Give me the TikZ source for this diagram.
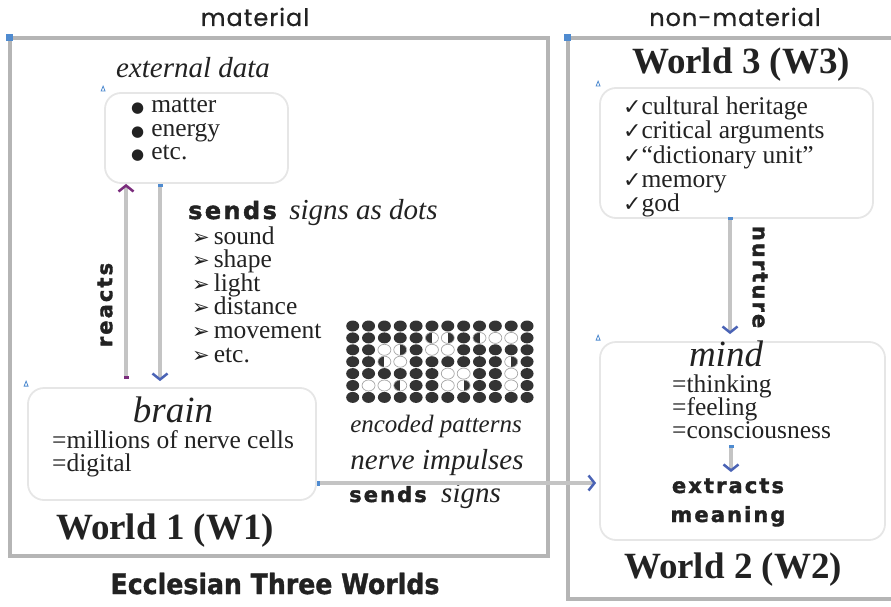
\documentclass[tikz,border=0pt]{standalone}
\usepackage{fontspec}
\usetikzlibrary{arrows.meta,shapes.geometric,positioning,calc}
\setmainfont{Liberation Serif}
\newfontfamily\heavyfont[LetterSpace=10,BoldFeatures={FakeBold=1.8}]{DejaVu Sans}
\newfontfamily\symfont{DejaVu Sans}
\newfontfamily\handfont[LetterSpace=4,FakeBold=0.6]{Poppins}
\newfontfamily\condfont[BoldFeatures={FakeBold=1.2}]{DejaVu Sans Condensed}
\definecolor{inkgray}{HTML}{222222}
\definecolor{framegray}{HTML}{B5B5B5}
\definecolor{boxgray}{HTML}{E6E6E6}
\definecolor{linegray}{HTML}{C4C4C4}
\definecolor{tipblue}{HTML}{4A63B5}
\definecolor{markblue}{HTML}{4F8BD0}
\definecolor{tippurple}{HTML}{7A2C7C}
\definecolor{dotdark}{HTML}{333333}
\newcommand\bodysize{\fontsize{25.5}{28}\selectfont}
\newcommand\bulletmark{{\symfont\fontsize{15}{15}\selectfont ●}\hspace{7pt}}
\newcommand\pointmark{{\symfont\fontsize{21}{21}\selectfont ➢}\hspace{4pt}}
\newcommand\tickmark{{\symfont\fontsize{22}{22}\selectfont ✓}\hspace{0pt}}
\tikzset{
  frame/.style={line width=4pt, draw=framegray},
  softbox/.style={draw=boxgray, line width=1.8pt, rounded corners=16pt, inner sep=0pt},
  tri/.style={draw=markblue, line width=0.8pt},
  flow/.style={line width=3.5pt, draw=linegray,
    {Square[length=3pt,width=5pt,color=markblue]}-{Straight Barb[length=6pt,width=15pt,line width=2.5pt,color=tipblue]}},
  reactflow/.style={flow,
    {Square[length=3pt,width=5pt,color=tippurple]}-{Straight Barb[length=6pt,width=15pt,line width=2.5pt,color=tippurple]}},
  bodytext/.style={font=\bodysize, anchor=base west, inner sep=0pt},
  worldtitle/.style={font=\fontsize{37}{40}\selectfont\bfseries, anchor=base, inner sep=0pt},
  bigitalic/.style={font=\fontsize{37}{40}\selectfont\itshape, anchor=base, inner sep=0pt},
  heavy/.style={font=\fontsize{21}{24}\selectfont\heavyfont\bfseries, inner sep=0pt},
  handtext/.style={font=\fontsize{24}{26}\selectfont\handfont, anchor=base, inner sep=0pt},
  dot/.style={ellipse, minimum width=13pt, minimum height=11pt, inner sep=0pt},
  dotF/.style={dot, fill=dotdark},
  dotO/.style={dot, draw=gray!70, line width=0.7pt, fill=white},
  dotL/.style={dotO, path picture={\fill[dotdark] (path picture bounding box.south west) rectangle (path picture bounding box.north);}},
  dotR/.style={dotO, path picture={\fill[dotdark] (path picture bounding box.south) rectangle (path picture bounding box.north east);}}
}
\begin{document}
\begin{tikzpicture}[x=1pt, y=-1pt, every node/.style={text=inkgray}]
\useasboundingbox (0,0) rectangle (891,607);

% the two worlds frames
\draw[frame] (10,38) rectangle (548,556);
\draw[frame] (900,38) -- (568,38) -- (568,599) -- (900,599);
\fill[markblue] (6,34) rectangle ++(7,7);
\fill[markblue] (564,34) rectangle ++(7,7);
\node[handtext] (matlbl) at (255,26) {material};
\node[handtext] (nonmatlbl) at (735,26) {non-material};

% boxes
\node[softbox, minimum width=183pt, minimum height=90pt] (ext) at (196.5,138) {};
\node[softbox, minimum width=288pt, minimum height=112pt] (brain) at (172,444) {};
\node[softbox, minimum width=273pt, minimum height=130pt] (w3) at (736.5,153) {};
\node[softbox, minimum width=285pt, minimum height=198pt] (mind) at (742.5,441) {};
\foreach \b in {ext,brain,w3,mind}
  \draw[tri] ([shift={(-3,-1)}]\b.north west) -- ++(2,-5) -- ++(2,5) -- cycle;

% World 1
\node[font=\fontsize{29}{32}\selectfont\itshape, anchor=base, inner sep=0pt] (extlbl) at (193,78) {external data};
\foreach \t [count=\k] in {matter,energy,etc.}
  \node[bodytext] (ext-\k) at (131,113+23.5*\k-23.5) {\bulletmark\t};

\node[heavy, font=\fontsize{24}{26}\selectfont\heavyfont\bfseries, anchor=base west] (sends) at (188,219) {sends};
\node[font=\fontsize{29}{32}\selectfont\itshape, anchor=base west, inner sep=0pt, right=12pt of sends.base east, anchor=base west] (signs) {signs as dots};
\foreach \t [count=\k] in {sound,shape,light,distance,movement,etc.}
  \node[bodytext] (snd-\k) at (192,244+23.6*\k-23.6) {\pointmark\t};

\coordinate (rx) at (126,0);
\coordinate (sx) at (160,0);
\draw[reactflow] ($(rx |- brain.north)+(0,-8)$) -- (rx |- ext.south);
\draw[flow] (sx |- ext.south) -- ($(sx |- brain.north)+(0,-6)$);
\node[heavy, rotate=90] (reacts) at (105,305) {reacts};

% encoded dots
\foreach \row [count=\j] in {
  {F,F,F,F,F,F,F,F,F,F,F,F},
  {F,F,F,F,F,L,R,F,L,O,O,F},
  {F,F,O,R,F,O,O,F,F,F,F,F},
  {F,F,L,O,F,F,F,F,F,F,R,F},
  {F,F,F,F,F,F,O,O,F,F,O,F},
  {F,O,O,L,F,F,O,R,F,F,O,F},
  {F,F,F,F,F,F,F,F,F,F,F,F}}{
  \foreach \c [count=\i] in \row
    \node[dot\c] (d\j-\i) at (352.7+15.85*\i-15.85, 326+11.9*\j-11.9) {};
}
\node[font=\fontsize{25}{28}\selectfont\itshape, anchor=base, inner sep=0pt] (enc) at (436,432) {encoded patterns};
\node[font=\fontsize{29}{32}\selectfont\itshape, anchor=base, inner sep=0pt] (imp) at (437,469) {nerve impulses};
\node[heavy, anchor=base west] (sends2) at (349,502) {sends};
\node[font=\fontsize{29}{32}\selectfont\itshape, anchor=base west, inner sep=0pt, right=14pt of sends2.base east, anchor=base west] (signs2) {signs};

\node[bigitalic] (brainlbl) at (173,422) {brain};
\node[bodytext] (br-1) at (52,448) {=millions of nerve cells};
\node[bodytext] (br-2) at (52,471) {=digital};
\node[worldtitle] (w1lbl) at (165,539) {World 1 (W1)};
\draw[flow] ($(brain.east)+(0,39)$) -- ($(brain.east |- 0,483)!1!(mind.west |- 0,483)+(-3,0)$);
\node[font=\fontsize{28}{30}\selectfont\condfont\bfseries, anchor=base, inner sep=0pt] (eccl) at (275,594) {Ecclesian Three Worlds};

% World 3
\node[worldtitle] (w3lbl) at (741,74) {World 3 (W3)};
\foreach \t [count=\k] in {cultural heritage,critical arguments,“dictionary unit”,memory,god}
  \node[bodytext] (w3-\k) at (623,115+24*\k-24) {\tickmark\t};
\draw[flow] ($(w3.south)+(-6.5,-2)$) -- ($(w3.south |- mind.north)+(-6.5,-7)$);
\node[heavy, rotate=-90] (nurture) at (760,277) {nurture};

% World 2
\node[bigitalic] (mindlbl) at (726,366) {mind};
\foreach \t [count=\k] in {=thinking,=feeling,=consciousness}
  \node[bodytext] (mn-\k) at (672,392+23*\k-23) {\t};
\coordinate (cs) at (731,445);
\node[heavy, anchor=base] (extr) at (728,493) {extracts};
\node[heavy, anchor=base] (mean) at (728,522) {meaning};
\draw[flow] (cs) -- ($(cs |- extr.north)+(0,-6)$);
\node[worldtitle] (w2lbl) at (733,578) {World 2 (W2)};
\end{tikzpicture}
\end{document}
